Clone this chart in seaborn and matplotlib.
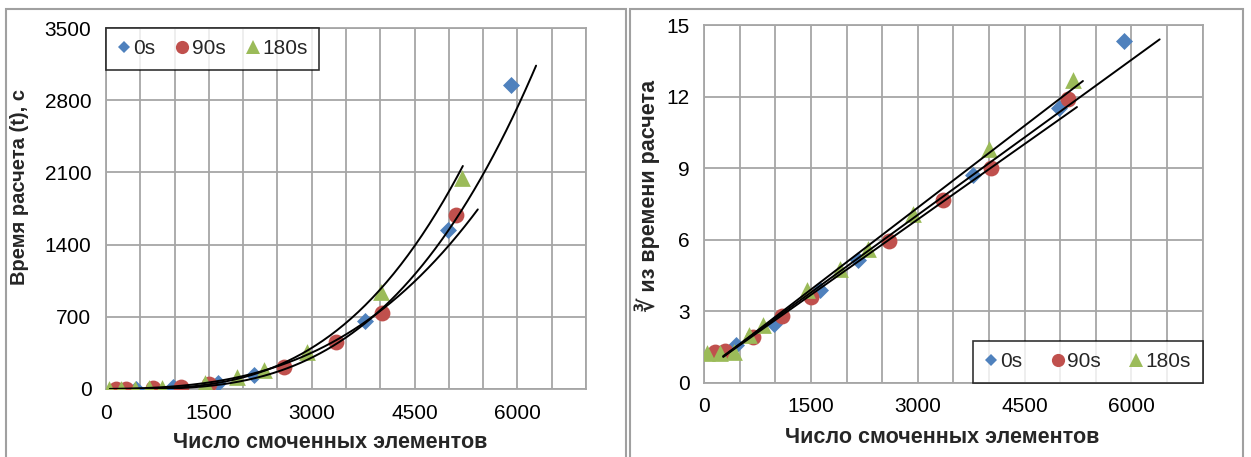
import numpy as np
import pandas as pd
import matplotlib
matplotlib.use("Agg")
import matplotlib.pyplot as plt
from matplotlib.patches import Rectangle
from matplotlib.lines import Line2D
from matplotlib.ticker import MultipleLocator
import seaborn as sns

# ---------------- data ----------------
series = ["0s", "90s", "180s"]

x_0s = [441, 975, 1630, 2160, 3780, 4985, 5900]
t_0s = [4, 15, 57, 136, 660, 1538, 2950]
c_0s = [1.58, 2.45, 3.88, 5.14, 8.70, 11.54, 14.31]

x_90s = [150, 296, 684, 1097, 1495, 2595, 3360, 4023, 5105]
t_90s = [2, 2, 7, 22, 47, 212, 460, 738, 1687]
c_90s = [1.30, 1.32, 1.92, 2.79, 3.60, 5.96, 7.68, 9.02, 11.89]

x_180s = [40, 223, 420, 625, 820, 1445, 1910, 2300, 2930, 4005, 5185]
t_180s = [2, 2, 2, 8, 14, 60, 112, 180, 360, 945, 2045]
c_180s = [1.23, 1.25, 1.30, 2.00, 2.42, 3.88, 4.76, 5.60, 7.06, 9.82, 12.68]

# trend lines
# left panel: t = (a + b*x)^3 ; right panel: y = a + b*x
left_trend_a = [-0.53, 0.91, -0.23]
left_trend_b = [0.002418, 0.002051, 0.002529]
left_trend_start = [60, 60, 60]
left_trend_end = [6272, 5422, 5204]

right_trend_a = [0.54, 0.527, 0.479]
right_trend_b = [0.002166, 0.002107, 0.002288]
right_trend_start = [267, 267, 267]
right_trend_end = [6398, 5236, 5320]

left_yticks = [0, 700, 1400, 2100, 2800, 3500]
right_yticks = [0, 3, 6, 9, 12, 15]
xticks = [0, 1500, 3000, 4500, 6000]

xlabel = "Число смоченных элементов"
left_ylabel = "Время расчета (t), с"
right_ylabel = "∛ из времени расчета"

# ---------------- styling ----------------
colors = {"0s": "#4F81BD", "90s": "#C0504D", "180s": "#9BBB59"}
markers = {"0s": "D", "90s": "o", "180s": "^"}
msize = {"0s": 75, "90s": 130, "180s": 145}
leg_ms = {"0s": 6.5, "90s": 9.5, "180s": 10.0}
GRID = "#A6A6A6"
FS = 15

sns.set_theme(style="white")
plt.rcParams["font.family"] = ["Liberation Sans", "DejaVu Sans"]

frames = []
for name, xs, ts, cs in [("0s", x_0s, t_0s, c_0s), ("90s", x_90s, t_90s, c_90s),
                         ("180s", x_180s, t_180s, c_180s)]:
    frames.append(pd.DataFrame({"x": xs, "t": ts, "c": cs, "series": name}))
df = pd.concat(frames, ignore_index=True)

fig = plt.figure(figsize=(12.51, 4.57), dpi=100)
W, H = 1251, 457

def fx(px):
    return px / W

def fy(py):
    return 1 - py / H

axL = fig.add_axes([fx(106), fy(389), fx(586) - fx(106), fy(28) - fy(389)])
axR = fig.add_axes([fx(704.3), fy(382.7), fx(1202.5) - fx(704.3), fy(25) - fy(382.7)])

# chart-area borders
for x0, x1 in [(6, 626), (630, 1243)]:
    fig.patches.append(Rectangle((fx(x0), fy(470)), fx(x1) - fx(x0), fy(9) - fy(470),
                                 transform=fig.transFigure, fill=False,
                                 edgecolor="#A0A0A0", linewidth=1.5, zorder=0))

def style_axes(ax, ymax, yticks):
    ax.set_xlim(0, 7000)
    ax.set_ylim(0, ymax)
    ax.set_xticks(xticks)
    ax.set_yticks(yticks)
    ax.xaxis.set_minor_locator(MultipleLocator(500))
    ax.grid(True, which="both", axis="x", color=GRID, linewidth=1.3)
    ax.grid(True, which="major", axis="y", color=GRID, linewidth=1.3)
    ax.set_axisbelow(True)
    for sp in ax.spines.values():
        sp.set_visible(True)
        sp.set_color(GRID)
        sp.set_linewidth(1.3)
    ax.tick_params(axis="both", which="major", direction="out", length=4.5, width=1.3,
                   color=GRID, labelsize=FS, pad=6, labelcolor="black")
    ax.tick_params(axis="x", which="minor", length=0)
    ax.tick_params(top=False, right=False)
    ax.set_xlabel(xlabel, fontsize=FS + 0.5, fontweight="bold")

# ---------------- left panel ----------------
style_axes(axL, 3500, left_yticks)
for name in series:
    sub = df[df.series == name]
    sns.scatterplot(x=sub.x, y=sub.t, marker=markers[name], color=colors[name],
                    s=msize[name], linewidth=0, ax=axL, zorder=3, legend=False)
for i, name in enumerate(series):
    xs = np.linspace(left_trend_start[i], left_trend_end[i], 200)
    axL.plot(xs, (left_trend_a[i] + left_trend_b[i] * xs) ** 3, color="black",
             linewidth=1.4, zorder=4)
axL.set_ylabel(left_ylabel, fontsize=14.5, fontweight="bold")
axL.xaxis.set_label_coords(0.467, -0.12)
axL.yaxis.set_label_coords(-0.16, 0.56)

# ---------------- right panel ----------------
style_axes(axR, 15, right_yticks)
for name in series:
    sub = df[df.series == name]
    sns.scatterplot(x=sub.x, y=sub.c, marker=markers[name], color=colors[name],
                    s=msize[name], linewidth=0, ax=axR, zorder=3, legend=False)
for i, name in enumerate(series):
    xs = np.array([right_trend_start[i], right_trend_end[i]])
    axR.plot(xs, right_trend_a[i] + right_trend_b[i] * xs, color="black",
             linewidth=1.4, zorder=4)
axR.set_ylabel(right_ylabel, fontsize=FS + 0.5, fontweight="bold")
axR.xaxis.set_label_coords(0.478, -0.125)
axR.yaxis.set_label_coords(-0.088, 0.522)

# ---------------- legends ----------------
handles = [Line2D([], [], linestyle="none", marker=markers[n], color=colors[n],
                  markersize=leg_ms[n], markeredgewidth=0) for n in series]
for ax, loc, cs in [(axL, "upper left", 1.0), (axR, "lower right", 1.4)]:
    leg = ax.legend(handles, series, loc=loc, ncol=3, fontsize=FS, frameon=True,
                    fancybox=False, borderaxespad=0.0, handlelength=0.6,
                    handletextpad=0.15, columnspacing=cs, borderpad=0.55)
    leg.get_frame().set_edgecolor("black")
    leg.get_frame().set_linewidth(1.2)
    leg.set_zorder(10)

fig.savefig("out.png", dpi=100)
